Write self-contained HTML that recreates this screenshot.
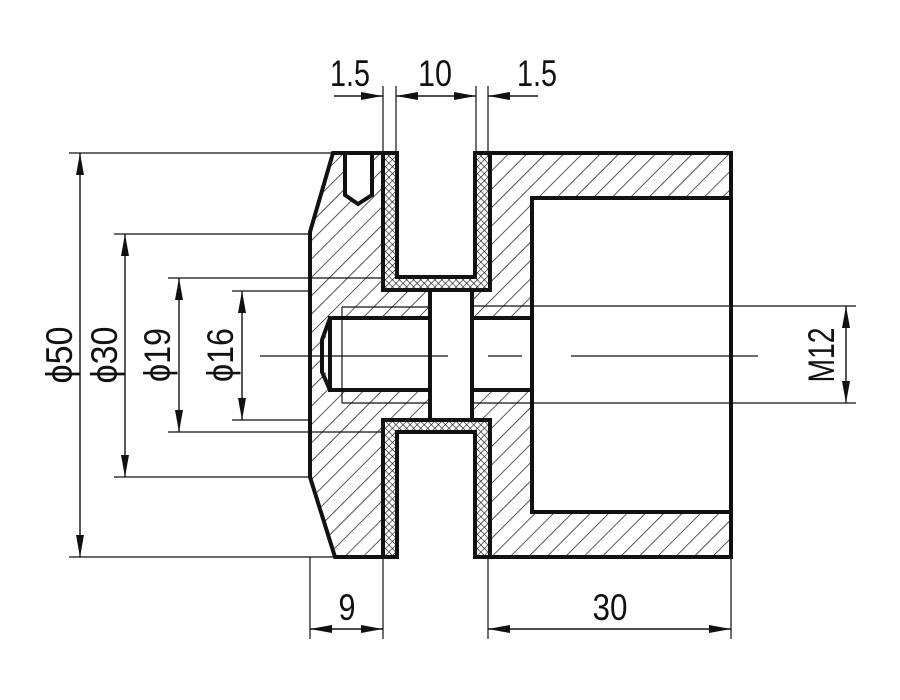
<!DOCTYPE html>
<html><head><meta charset="utf-8"><style>html,body{margin:0;padding:0;background:#fff}svg{display:block}text{font-family:"Liberation Sans",sans-serif;fill:#111}</style></head>
<body>
<svg width="900" height="700" viewBox="0 0 900 700" xmlns="http://www.w3.org/2000/svg">
<defs>
<pattern id="h" width="13" height="13" patternUnits="userSpaceOnUse" patternTransform="rotate(45)">
<line x1="0" y1="0" x2="0" y2="13" stroke="#111" stroke-width="1.4"/>
</pattern>
<pattern id="x" width="5" height="5" patternUnits="userSpaceOnUse" patternTransform="rotate(45)">
<line x1="0" y1="0" x2="0" y2="5" stroke="#111" stroke-width="1.2"/>
<line x1="0" y1="0" x2="5" y2="0" stroke="#111" stroke-width="1.2"/>
</pattern>
<marker id="a" markerWidth="22" markerHeight="8" refX="22" refY="4" orient="auto" markerUnits="userSpaceOnUse"><path d="M0,0 L22,4 L0,8z" fill="#111"/></marker>
<marker id="as" markerWidth="22" markerHeight="8" refX="0" refY="4" orient="auto" markerUnits="userSpaceOnUse"><path d="M22,0 L0,4 L22,8z" fill="#111"/></marker>
</defs>

<polygon points="333,153 383,153 383,290 428,290 428,420 383,420 383,557 335,557 310,477 310,232" fill="url(#h)"/>
<polygon points="490,153 731,153 731,557 490,557 490,420 472,420 472,290 490,290" fill="url(#h)"/>
<path d="M383,153 V290 H490 V153 H475 V277 H397 V153z" fill="url(#x)"/>
<path d="M383,557 V420 H490 V557 H475 V432 H397 V557z" fill="url(#x)"/>
<rect x="532" y="198" width="199" height="314" fill="#fff"/>
<rect x="472" y="318" width="60" height="72" fill="#fff"/>
<polygon points="330,318 428,318 428,390 330,390 322,356" fill="#fff"/>
<rect x="428" y="290" width="44" height="130" fill="#fff"/>
<polygon points="345,153 372,153 372,195 358,204 345,195" fill="#fff"/>

<g fill="none" stroke="#111" stroke-width="4" stroke-linejoin="miter">
<polyline points="383,153 333,153 310,232 310,477 335,557 383,557"/>
<path d="M383,153 V290 H490 V153 H475 V277 H397 V153 H383z"/>
<path d="M383,557 V420 H490 V557 H475 V432 H397 V557 H383z"/>
<path d="M490,153 H731 V557 H490"/>
<path d="M731,198 H532 V512 H731"/>
<path d="M532,318 H472 V390 H532"/>
<path d="M430,290 V420 M472,290 V420"/>
<path d="M428,318 H330 V390 H428"/>
<path d="M330,318 L322,340 V372 L330,390"/>
<path d="M345,153 V195 L358,204 L372,195 V153"/>
</g>

<g fill="none" stroke="#111" stroke-width="1.2">
<path d="M342,307 V403 M342,307 H428 M342,403 H428"/>
<path d="M260,356 H448 M488,356 H522 M571,356 H758"/>
<path d="M69,153 H333 M69,557 H335"/>
<path d="M114,234 H310 M114,477 H310"/>
<path d="M168,278 H383 M168,432 H383"/>
<path d="M232,291 H310 M232,420 H310"/>
<path d="M472,306 H856 M472,403 H856"/>
<path d="M383,86 V153 M396,86 V153 M476,86 V153 M488,86 V153"/>
<path d="M310,557 V639 M383,557 V639 M488,557 V639 M731,557 V639"/>
</g>
<g stroke="#111" stroke-width="1.4" fill="none">
<line x1="80" y1="153" x2="80" y2="557" marker-start="url(#as)" marker-end="url(#a)"/>
<line x1="125" y1="234" x2="125" y2="477" marker-start="url(#as)" marker-end="url(#a)"/>
<line x1="179" y1="278" x2="179" y2="432" marker-start="url(#as)" marker-end="url(#a)"/>
<line x1="242" y1="291" x2="242" y2="420" marker-start="url(#as)" marker-end="url(#a)"/>
<line x1="846" y1="306" x2="846" y2="403" marker-start="url(#as)" marker-end="url(#a)"/>
<line x1="310" y1="629" x2="383" y2="629" marker-start="url(#as)" marker-end="url(#a)"/>
<line x1="488" y1="629" x2="731" y2="629" marker-start="url(#as)" marker-end="url(#a)"/>
<line x1="334" y1="96" x2="383" y2="96" marker-end="url(#a)"/>
<line x1="396" y1="96" x2="476" y2="96" marker-start="url(#as)" marker-end="url(#a)"/>
<line x1="538" y1="96" x2="488" y2="96" marker-end="url(#a)"/>
</g>

<g font-size="37">
<text x="350" y="86" text-anchor="middle" textLength="40" lengthAdjust="spacingAndGlyphs">1.5</text>
<text x="435" y="86" text-anchor="middle" textLength="34" lengthAdjust="spacingAndGlyphs">10</text>
<text x="537" y="86" text-anchor="middle" textLength="40" lengthAdjust="spacingAndGlyphs">1.5</text>
<text x="347" y="620" text-anchor="middle" textLength="17" lengthAdjust="spacingAndGlyphs">9</text>
<text x="610" y="620" text-anchor="middle" textLength="35" lengthAdjust="spacingAndGlyphs">30</text>
<text transform="translate(72,355) rotate(-90)" text-anchor="middle" textLength="57" lengthAdjust="spacingAndGlyphs">ϕ50</text>
<text transform="translate(117,355) rotate(-90)" text-anchor="middle" textLength="57" lengthAdjust="spacingAndGlyphs">ϕ30</text>
<text transform="translate(170,355) rotate(-90)" text-anchor="middle" textLength="54" lengthAdjust="spacingAndGlyphs">ϕ19</text>
<text transform="translate(233,355) rotate(-90)" text-anchor="middle" textLength="54" lengthAdjust="spacingAndGlyphs">ϕ16</text>
<text transform="translate(834,355) rotate(-90)" text-anchor="middle" textLength="55" lengthAdjust="spacingAndGlyphs">M12</text>
</g>
</svg>
</body></html>
